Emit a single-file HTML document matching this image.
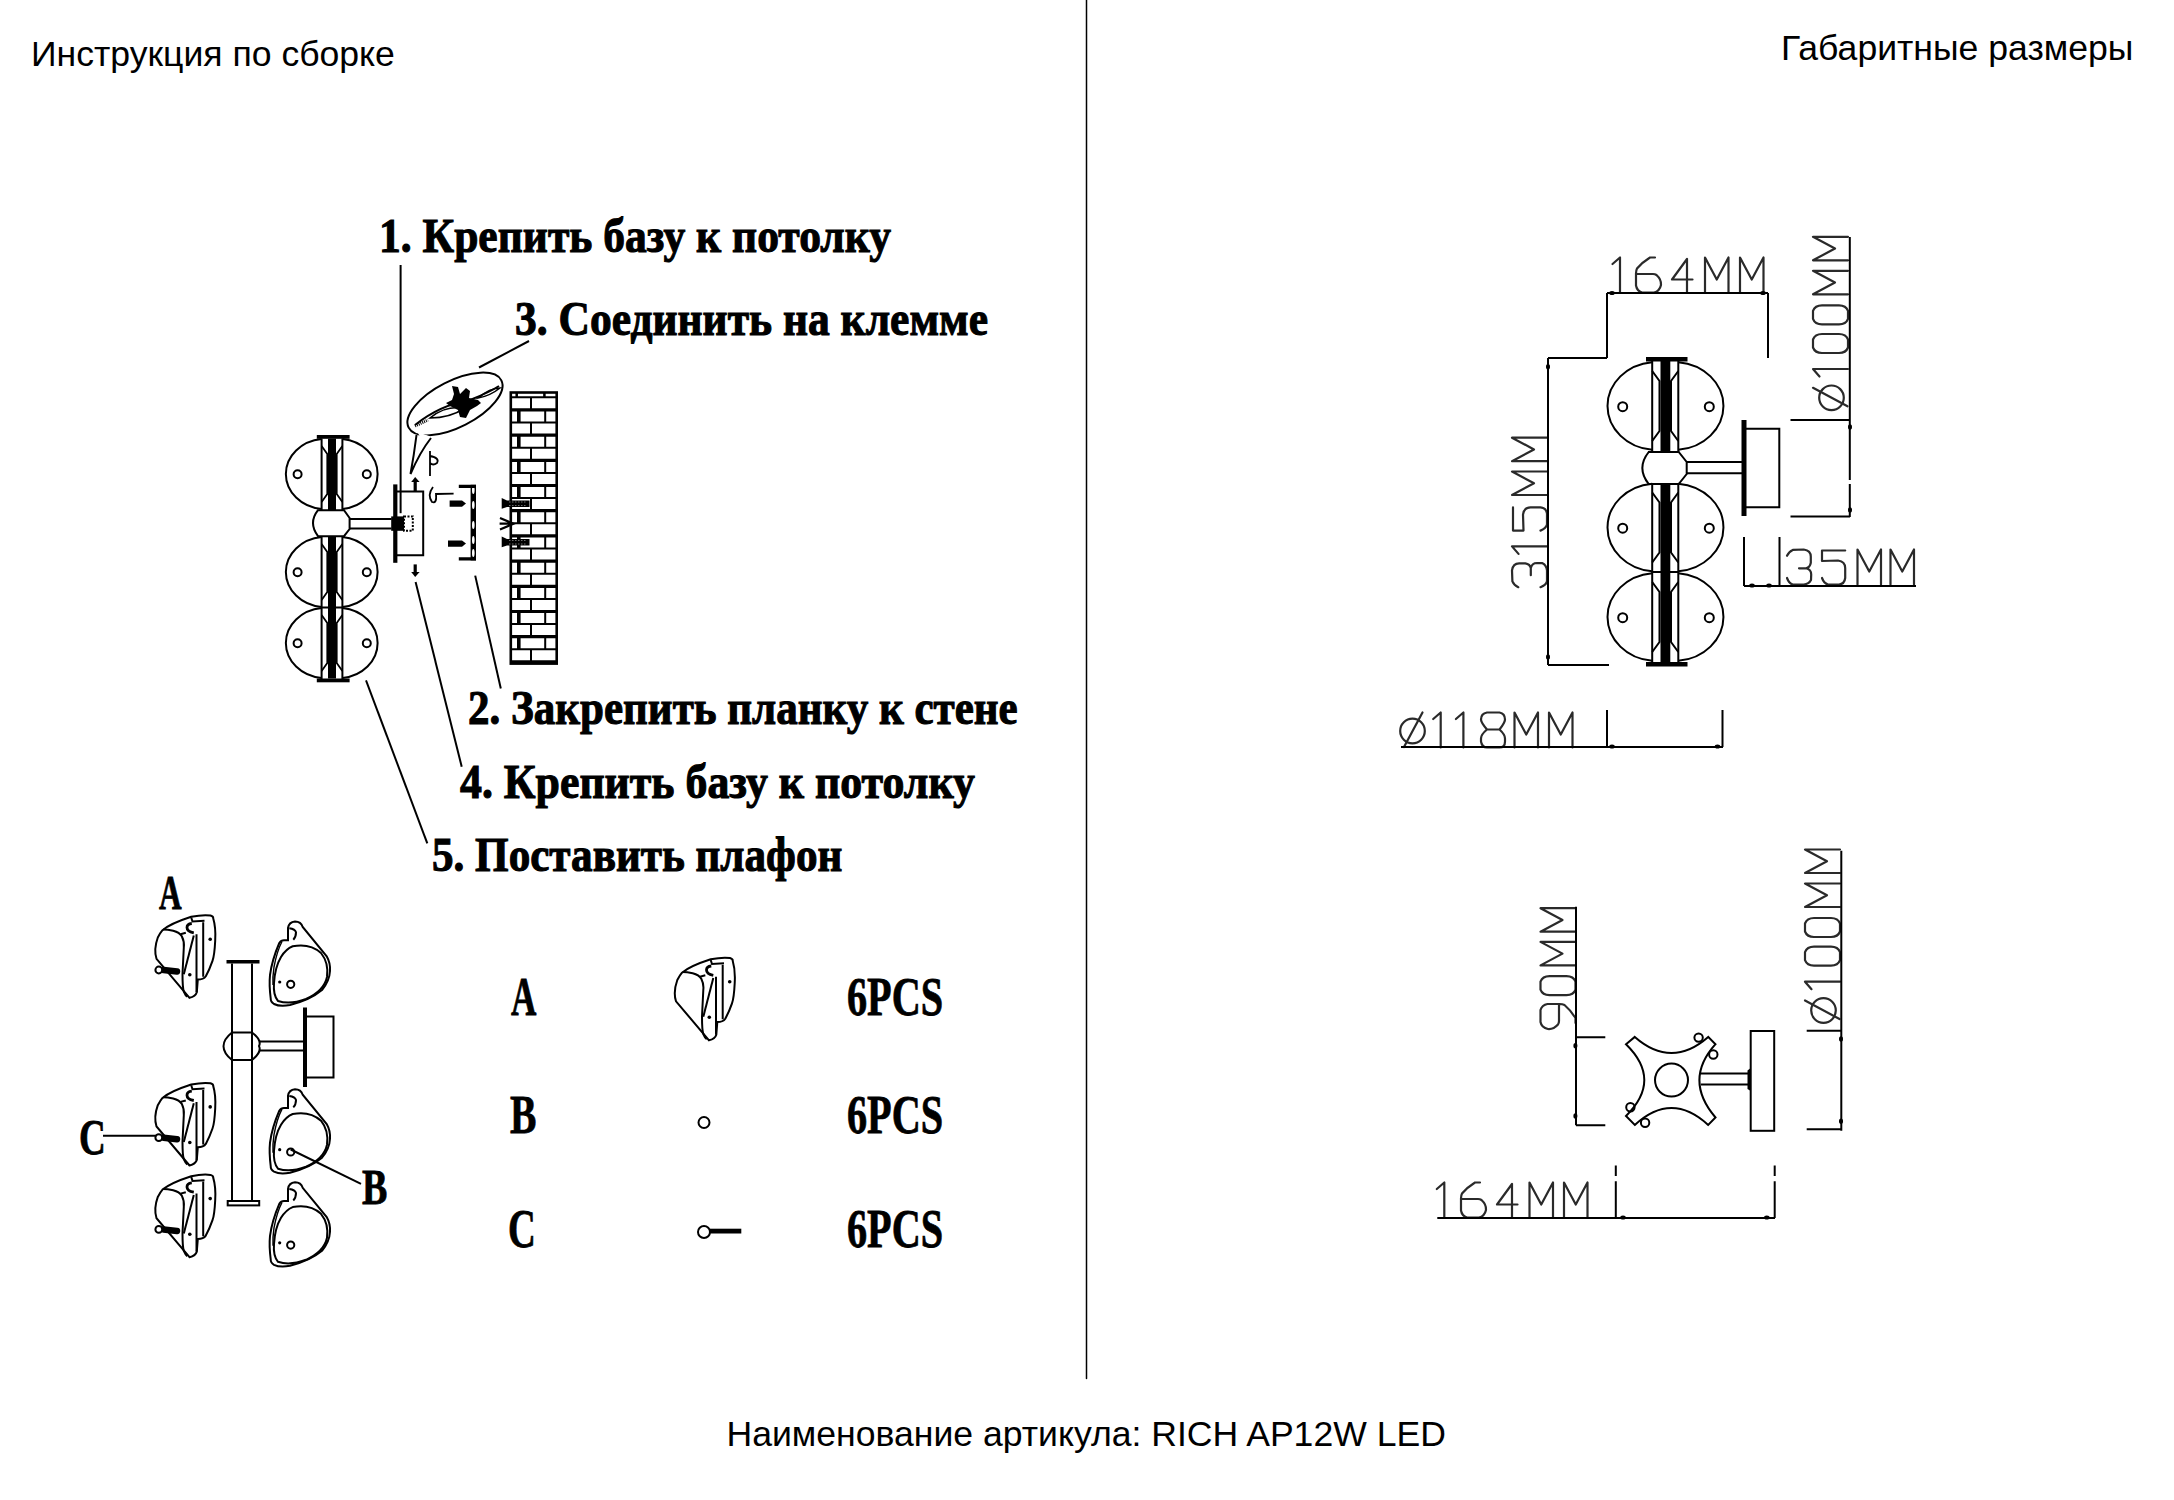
<!DOCTYPE html>
<html><head><meta charset="utf-8">
<style>
html,body{margin:0;padding:0;background:#fff;}
body{width:2174px;height:1500px;position:relative;overflow:hidden;}
.t{position:absolute;white-space:nowrap;line-height:1;color:#000;}
.sans{font-family:"Liberation Sans",sans-serif;font-size:35.6px;}
.ser{font-family:"Liberation Serif",serif;font-weight:bold;font-size:49px;transform-origin:0 0;-webkit-text-stroke:1.1px #000;}
.cnd{font-family:"Liberation Serif",serif;font-weight:bold;font-size:55px;transform-origin:0 0;transform:scaleX(0.72);-webkit-text-stroke:0.8px #000;}
svg{position:absolute;left:0;top:0;}
</style></head><body>

<div class="t sans" style="left:31px;top:37px;">Инструкция по сборке</div>
<div class="t sans" style="left:1781px;top:31px;">Габаритные размеры</div>
<div class="t sans" style="left:726.5px;top:1416.5px;">Наименование артикула: RICH AP12W LED</div>
<div class="t ser" style="left:379px;top:210.5px;transform:scaleX(0.889)">1. Крепить базу к потолку</div>
<div class="t ser" style="left:515px;top:293.5px;transform:scaleX(0.888)">3. Соединить на клемме</div>
<div class="t ser" style="left:467.5px;top:683px;transform:scaleX(0.878)">2. Закрепить планку к стене</div>
<div class="t ser" style="left:460px;top:757px;transform:scaleX(0.894)">4. Крепить базу к потолку</div>
<div class="t ser" style="left:431.5px;top:830px;transform:scaleX(0.88)">5. Поставить плафон</div>
<div class="t cnd" style="left:510.5px;top:969px;transform:scaleX(0.64)">A</div>
<div class="t cnd" style="left:847px;top:969px;transform:scaleX(0.731)">6PCS</div>
<div class="t cnd" style="left:510px;top:1087px;transform:scaleX(0.72)">B</div>
<div class="t cnd" style="left:847px;top:1087px;transform:scaleX(0.731)">6PCS</div>
<div class="t cnd" style="left:508px;top:1201px;transform:scaleX(0.7)">C</div>
<div class="t cnd" style="left:847px;top:1201px;transform:scaleX(0.731)">6PCS</div>
<div class="t cnd" style="font-size:49px;left:158.5px;top:868px;transform:scaleX(0.64)">A</div>
<div class="t cnd" style="font-size:50px;left:78.5px;top:1111.5px;transform:scaleX(0.74)">C</div>
<div class="t cnd" style="font-size:50px;left:361.5px;top:1162px;transform:scaleX(0.76)">B</div>
<svg width="2174" height="1500" viewBox="0 0 2174 1500">
<style>.cad{fill:none;stroke:#2a2a2a;stroke-width:2.2;stroke-linejoin:round;stroke-linecap:round}.ln{fill:none;stroke:#000;stroke-width:2}</style>
<line x1="1086.5" y1="0" x2="1086.5" y2="1378.5" stroke="#000" stroke-width="1.5" stroke-linecap="round"/>
<defs>
<g id="g1"><path d="M-1.5,6.5 L6,0 L6,35"/></g>
<g id="g6"><path d="M19,0 L14,0 Q6,5 1,11 Q0,13 0,16 L0,28 Q1,33.5 6,35 L18,35 Q23.5,34 25,27.5 Q25.5,22 20.5,17.5 Q19,16.5 17,16.5 L0,16.5"/></g>
<g id="g9"><path transform="rotate(180 12.5 17.5)" d="M19,0 L14,0 Q6,5 1,11 Q0,13 0,16 L0,28 Q1,33.5 6,35 L18,35 Q23.5,34 25,27.5 Q25.5,22 20.5,17.5 Q19,16.5 17,16.5 L0,16.5"/></g>
<g id="g4"><path d="M15,1.5 L0,22 L20.5,22 M15,1.5 L15,35"/></g>
<g id="gM"><path d="M0,35 L0,0 L11.75,22 L23.5,0 L23.5,35"/></g>
<g id="g3"><path d="M0,6.3 Q2,2 5.8,0.4 L16.8,0 Q23.8,1 23.8,7.1 L23.8,13.3 Q23,18 19.1,18.8 L12,18.8 M19.1,18.8 Q24.2,20 24.2,25 L24,30.5 Q22,34.5 16.8,35 L5.8,35 Q2,34 0,28.5"/></g>
<g id="g5"><path d="M23.2,1 L0,1 L0,11.5 L16,11 Q23.2,12 23.2,18.5 L23.2,28.5 Q22.5,34.5 17,35 L6,35 Q2,34 0,28.5"/></g>
<g id="g8"><path d="M6,0 L18.5,0 Q24,1 24,7 Q24,10 18.5,17 L6,17 Q0,10 0,7 Q0,1 6,0 Z M6,17 Q0,22 0,26 L0,29 Q1,35 6,35 L18.5,35 Q24,35 24,29 L24,26 Q24,22 18.5,17"/></g>
<g id="g0"><path d="M5.5,0 L13.5,0 Q19,2 19,9 L19,26 Q19,33 13.5,35 L5.5,35 Q0,33 0,26 L0,9 Q0,2 5.5,0 Z"/></g>
<g id="go"><circle cx="12.5" cy="18.5" r="12.3"/><path d="M22.5,0 L4,34.5"/></g>
</defs>
<g class="cad"><use href="#g1" x="1614" y="257.5"/><use href="#g6" x="1636" y="257.5"/><use href="#g4" x="1672" y="257.5"/><use href="#gM" x="1705" y="257.5"/><use href="#gM" x="1740" y="257.5"/></g>
<g class="cad"><use href="#g1" x="1438.3" y="1182.5"/><use href="#g6" x="1461" y="1182.5"/><use href="#g4" x="1497" y="1182.5"/><use href="#gM" x="1529.5" y="1182.5"/><use href="#gM" x="1564" y="1182.5"/></g>
<g class="cad"><use href="#g3" x="1787" y="549.5"/><use href="#g5" x="1822" y="549.5"/><use href="#gM" x="1857.5" y="549.5"/><use href="#gM" x="1890.5" y="549.5"/></g>
<g class="cad"><use href="#go" x="1400" y="712.5"/><use href="#g1" x="1434.7" y="712.5"/><use href="#g1" x="1457.4" y="712.5"/><use href="#g8" x="1481" y="712.5"/><use href="#gM" x="1514.5" y="712.5"/><use href="#gM" x="1549" y="712.5"/></g>
<g class="cad" transform="translate(1547,587.2) rotate(-90)"><use href="#g3" x="0" y="-35"/><use href="#g1" x="34.8" y="-35"/><use href="#g5" x="56.6" y="-35"/><use href="#gM" x="92.2" y="-35"/><use href="#gM" x="126" y="-35"/></g>
<g class="cad" transform="translate(1848,410.3) rotate(-90)"><use href="#go" x="0" y="-35"/><use href="#g1" x="35.3" y="-35"/><use href="#g0" x="57.3" y="-35"/><use href="#g0" x="86" y="-35"/><use href="#gM" x="116" y="-35"/><use href="#gM" x="150" y="-35"/></g>
<g class="cad" transform="translate(1840,1023) rotate(-90)"><use href="#go" x="0" y="-35"/><use href="#g1" x="35.3" y="-35"/><use href="#g0" x="57.3" y="-35"/><use href="#g0" x="86" y="-35"/><use href="#gM" x="116" y="-35"/><use href="#gM" x="150" y="-35"/></g>
<g class="cad" transform="translate(1575.5,1029) rotate(-90)"><use href="#g9" x="0" y="-35"/><use href="#g0" x="33.8" y="-35"/><use href="#gM" x="63.6" y="-35"/><use href="#gM" x="97.3" y="-35"/></g>
<g class="ln">
<path d="M1607,293 L1768,293 M1607,293 L1607,358 M1768,293 L1768,358"/>
<path d="M1548,358 L1607,358 M1548,358 L1548,665 M1548,665 L1609,665"/>
<path d="M1849.8,237 L1849.8,517 M1790.5,420 L1850,420 M1790.5,516.5 L1850,516.5"/>
<path d="M1744,537 L1744,586 M1779.5,537 L1779.5,586 M1744,586 L1916,586"/>
<path d="M1401,747 L1723,747 M1607,710 L1607,747 M1722.5,710 L1722.5,747"/>
</g>
<g class="ln">
<path d="M1652.2,362.2 A49.4 44 0 0 0 1652.2,449.8"/>
<path d="M1678.3,362.2 A49.9 44 0 0 1 1678.3,449.8"/>
<circle cx="1622.7" cy="406.7" r="4.5"/>
<circle cx="1709.3" cy="406.7" r="4.5"/>
<path d="M1652.2,371 L1659.5,381 L1659.5,431 L1652.2,441 M1678.3,371 L1671,381 L1671,431 L1678.3,441" stroke-width="2"/>
<path d="M1652.2,483.7 A49.4 44 0 0 0 1652.2,571.3"/>
<path d="M1678.3,483.7 A49.9 44 0 0 1 1678.3,571.3"/>
<circle cx="1622.7" cy="528.2" r="4.5"/>
<circle cx="1709.3" cy="528.2" r="4.5"/>
<path d="M1652.2,492.5 L1659.5,502.5 L1659.5,552.5 L1652.2,562.5 M1678.3,492.5 L1671,502.5 L1671,552.5 L1678.3,562.5" stroke-width="2"/>
<path d="M1652.2,573.2 A49.4 44 0 0 0 1652.2,660.8"/>
<path d="M1678.3,573.2 A49.9 44 0 0 1 1678.3,660.8"/>
<circle cx="1622.7" cy="617.7" r="4.5"/>
<circle cx="1709.3" cy="617.7" r="4.5"/>
<path d="M1652.2,582 L1659.5,592 L1659.5,642 L1652.2,652 M1678.3,582 L1671,592 L1671,642 L1678.3,652" stroke-width="2"/>
<path d="M1652.2,361 L1652.2,452 M1678.3,361 L1678.3,452 M1652.2,484 L1652.2,662 M1678.3,484 L1678.3,662 M1652.2,572 L1678.3,572"/>
<path d="M1648.7,452 L1678.7,452 L1686.7,462 L1686.7,474 L1678.7,484 L1648.7,484 Q1636,468 1648.7,452 Z"/>
<path d="M1686.7,462 L1742,462 M1686.7,473.3 L1742,473.3"/>
<path d="M1744,428.7 L1779.3,428.7 L1779.3,507.3 L1744,507.3"/>
</g>
<rect x="1646" y="357" width="41.5" height="4.5" fill="#000"/>
<rect x="1646" y="662" width="41.5" height="4.5" fill="#000"/>
<rect x="1660.5" y="361" width="9.8" height="91" fill="#000"/>
<rect x="1660.5" y="484" width="9.8" height="178" fill="#000"/>
<rect x="1741.5" y="420" width="5" height="96" fill="#000"/>
<g class="ln">
<path d="M1576,906.7 L1576,1125.3 M1576,1037.3 L1605.3,1037.3 M1576,1125.3 L1605.3,1125.3"/>
<path d="M1841.3,850.7 L1841.3,1130.7 M1806.7,1030.7 L1841.3,1030.7 M1806.7,1129.3 L1841.3,1129.3"/>
<path d="M1437.3,1218 L1775,1218 M1615.8,1165.6 L1615.8,1176 M1615.8,1181.3 L1615.8,1218 M1774.7,1165.6 L1774.7,1176 M1774.7,1181.3 L1774.7,1218"/>
<rect x="1750.7" y="1031" width="23.5" height="99.8"/>
<path d="M1700.8,1073.5 L1748,1073.5 M1700.8,1084.5 L1748,1084.5"/>
<path d="M1634.8,1036.9 Q1671.5,1069 1708.2,1036.9 L1715.5,1044.2 Q1683.3,1080 1715.5,1117.5 L1708.2,1124.9 Q1671.5,1091 1634.8,1124.9 L1626,1116 Q1662.6,1080 1626,1044.2 Z"/>
<circle cx="1671.5" cy="1080.1" r="16.5"/>
<circle cx="1698.6" cy="1037.6" r="4.2"/><circle cx="1713.3" cy="1054.5" r="4.2"/><circle cx="1630.4" cy="1107.3" r="4.2"/><circle cx="1645.1" cy="1122.7" r="4.2"/>
</g>
<path d="M1747.5,1070.6 L1750.7,1068 L1750.7,1091 L1747.5,1089 Z" fill="#000"/>
<ellipse cx="1548" cy="366.7" rx="2" ry="2.8" fill="#000"/>
<ellipse cx="1548" cy="657" rx="2" ry="2.8" fill="#000"/>
<ellipse cx="1850" cy="427" rx="2" ry="2.8" fill="#000"/>
<ellipse cx="1850" cy="510" rx="2" ry="2.8" fill="#000"/>
<ellipse cx="1575.4" cy="1045.7" rx="2" ry="2.8" fill="#000"/>
<ellipse cx="1575.4" cy="1116" rx="2" ry="2.8" fill="#000"/>
<ellipse cx="1841" cy="1039" rx="2" ry="2.8" fill="#000"/>
<ellipse cx="1841" cy="1121.2" rx="2" ry="2.8" fill="#000"/>
<ellipse cx="1752" cy="585.5" rx="2.8" ry="2" fill="#000"/>
<ellipse cx="1769" cy="585.5" rx="2.8" ry="2" fill="#000"/>
<ellipse cx="1612" cy="746.5" rx="2.8" ry="2" fill="#000"/>
<ellipse cx="1717.5" cy="746.5" rx="2.8" ry="2" fill="#000"/>
<ellipse cx="1612" cy="293" rx="2.8" ry="2" fill="#000"/>
<ellipse cx="1763" cy="293" rx="2.8" ry="2" fill="#000"/>
<ellipse cx="1623" cy="1217.5" rx="2.8" ry="2" fill="#000"/>
<ellipse cx="1766.8" cy="1217.5" rx="2.8" ry="2" fill="#000"/>
<rect x="1846" y="480" width="8" height="4" fill="#fff"/>
<g class="ln">
<path d="M400.6,265 L400.6,513.2"/>
<path d="M529,341 L479,367.5"/>
<path d="M475.2,575.6 L500.8,688.5"/>
<path d="M415.6,582 L461.7,766.7"/>
<path d="M366,680.4 L427.3,843.3"/>
<path d="M321.6,439 A40 35.2 0 0 0 321.6,509"/>
<path d="M342.4,439 A39.4 35.2 0 0 1 342.4,509"/>
<circle cx="297.6" cy="474.2" r="4"/>
<circle cx="366.8" cy="474.2" r="4"/>
<path d="M321.6,446 L327.3,454 L327.3,494 L321.6,502 M342.4,446 L336.7,454 L336.7,494 L342.4,502" stroke-width="1.8"/>
<path d="M321.6,537 A40 35.2 0 0 0 321.6,607"/>
<path d="M342.4,537 A39.4 35.2 0 0 1 342.4,607"/>
<circle cx="297.6" cy="572.2" r="4"/>
<circle cx="366.8" cy="572.2" r="4"/>
<path d="M321.6,544 L327.3,552 L327.3,592 L321.6,600 M342.4,544 L336.7,552 L336.7,592 L342.4,600" stroke-width="1.8"/>
<path d="M321.6,608 A40 35.2 0 0 0 321.6,678"/>
<path d="M342.4,608 A39.4 35.2 0 0 1 342.4,678"/>
<circle cx="297.6" cy="643.2" r="4"/>
<circle cx="366.8" cy="643.2" r="4"/>
<path d="M321.6,615 L327.3,623 L327.3,663 L321.6,671 M342.4,615 L336.7,623 L336.7,663 L342.4,671" stroke-width="1.8"/>
<path d="M321.6,438.6 L321.6,510 M342.4,438.6 L342.4,510 M321.6,536 L321.6,679 M342.4,536 L342.4,679 M321.6,607.5 L342.4,607.5"/>
<path d="M318,510.2 L344,510.2 L349.6,518 L349.6,529 L344,536.2 L318,536.2 Q308,523 318,510.2 Z"/>
<path d="M349.6,519 L391.6,519 M349.6,528.6 L391.6,528.6"/>
<path d="M397,491.6 L423.2,491.6 L423.2,555.2 L397,555.2"/>
</g>
<rect x="316.8" y="435" width="32.8" height="3.8" fill="#000"/>
<rect x="316.8" y="678.5" width="32.8" height="3.8" fill="#000"/>
<rect x="328" y="438.6" width="8" height="71.6" fill="#000"/>
<rect x="328" y="536" width="8" height="142.5" fill="#000"/>
<rect x="393.2" y="484.4" width="4.2" height="78.4" fill="#000"/>
<rect x="391.2" y="516.4" width="12.8" height="14.4" fill="#000"/>
<rect x="404" y="516.4" width="8.8" height="14.4" fill="none" stroke="#000" stroke-width="2" stroke-dasharray="2 1.5"/>
<path d="M415.2,491.6 L415.2,481" stroke="#000" stroke-width="3.2"/><path d="M411.2,482 L419.6,482 L415.2,477 Z" fill="#000"/>
<path d="M415.2,564.4 L415.2,573" stroke="#000" stroke-width="3.2"/><path d="M411.2,572 L419.6,572 L415.2,577 Z" fill="#000"/>
<path d="M433,487 Q427,495 432,502 Q437,504 436,494 L453.6,493.6" fill="none" stroke="#000" stroke-width="1.8"/>
<path d="M449.6,500.4 L462,500.4 L466,503.6 L462,506.8 L449.6,506.8 Z" fill="#000"/>
<path d="M448,540.4 L462,540.4 L466,543.6 L462,546.8 L448,546.8 Z" fill="#000"/>
<rect x="470.6" y="484.8" width="5.4" height="75.6" fill="#000"/>
<ellipse cx="473.3" cy="490" rx="1.3" ry="4" fill="#fff"/>
<ellipse cx="473.3" cy="505" rx="1.3" ry="4" fill="#fff"/>
<ellipse cx="473.3" cy="525" rx="1.3" ry="4" fill="#fff"/>
<ellipse cx="473.3" cy="540" rx="1.3" ry="4" fill="#fff"/>
<ellipse cx="473.3" cy="553" rx="1.3" ry="4" fill="#fff"/>
<path d="M458.8,486.4 L476,486.4 M458.8,558.8 L476,558.8" stroke="#000" stroke-width="3.2"/>
<ellipse cx="455" cy="404" rx="52" ry="23.2" transform="rotate(-27 455 404)" fill="none" stroke="#000" stroke-width="2"/>
<path d="M417.5,432 L430.5,436.5 L424,445 Z" fill="#fff"/>
<path d="M416.5,435 Q414,455 410.5,474 Q420,452 431,438" fill="none" stroke="#000" stroke-width="2"/>
<path d="M415,425 Q440,405 470,400 Q490,392 499,386" fill="none" stroke="#000" stroke-width="2"/>
<path d="M430,418 Q445,405 465,408 Q450,418 430,418 Z M478,398 Q490,388 500,388 Q490,396 478,398 Z" fill="none" stroke="#000" stroke-width="1.6"/>
<path d="M452,386 L458,387 L460,394 L466,388 L470,391 L469,398 L478,400 L481,403 L477,406 L470,410 L466,418 L460,417 L458,410 L450,406 L446,403 L452,400 L454,394 Z" fill="#000"/>
<path d="M415,426 L428,420" stroke="#000" stroke-width="3" stroke-dasharray="1 1"/>
<path d="M430,451 L430,476 M430,456 Q440,458 437,463 Q433,466 430,463" fill="none" stroke="#000" stroke-width="1.8"/>
<rect x="510.8" y="392.5" width="45.900000000000034" height="271.1" fill="none" stroke="#000" stroke-width="2.6"/>
<path d="M510.8,397.3 L556.7,397.3" stroke="#000" stroke-width="2"/>
<path d="M516.7,392.5 L516.7,397.3 M544.4,392.5 L544.4,397.3" stroke="#000" stroke-width="2.5"/>
<path d="M531,397.3 L531,409.90000000000003" stroke="#000" stroke-width="2"/>
<path d="M510.8,409.90000000000003 L556.7,409.90000000000003" stroke="#000" stroke-width="3.2"/>
<path d="M518.8,409.90000000000003 L518.8,422.50000000000006" stroke="#000" stroke-width="3.6"/><path d="M545.2,409.90000000000003 L545.2,422.50000000000006" stroke="#000" stroke-width="2"/>
<path d="M510.8,422.50000000000006 L556.7,422.50000000000006" stroke="#000" stroke-width="2"/>
<path d="M531,422.50000000000006 L531,435.1000000000001" stroke="#000" stroke-width="2"/>
<path d="M510.8,435.1000000000001 L556.7,435.1000000000001" stroke="#000" stroke-width="3.2"/>
<path d="M518.8,435.1000000000001 L518.8,447.7000000000001" stroke="#000" stroke-width="3.6"/><path d="M545.2,435.1000000000001 L545.2,447.7000000000001" stroke="#000" stroke-width="2"/>
<path d="M510.8,447.7000000000001 L556.7,447.7000000000001" stroke="#000" stroke-width="2"/>
<path d="M531,447.7000000000001 L531,460.3000000000001" stroke="#000" stroke-width="2"/>
<path d="M510.8,460.3000000000001 L556.7,460.3000000000001" stroke="#000" stroke-width="3.2"/>
<path d="M518.8,460.3000000000001 L518.8,472.90000000000015" stroke="#000" stroke-width="3.6"/><path d="M545.2,460.3000000000001 L545.2,472.90000000000015" stroke="#000" stroke-width="2"/>
<path d="M510.8,472.90000000000015 L556.7,472.90000000000015" stroke="#000" stroke-width="2"/>
<path d="M531,472.90000000000015 L531,485.50000000000017" stroke="#000" stroke-width="2"/>
<path d="M510.8,485.50000000000017 L556.7,485.50000000000017" stroke="#000" stroke-width="3.2"/>
<path d="M518.8,485.50000000000017 L518.8,498.1000000000002" stroke="#000" stroke-width="3.6"/><path d="M545.2,485.50000000000017 L545.2,498.1000000000002" stroke="#000" stroke-width="2"/>
<path d="M510.8,498.1000000000002 L556.7,498.1000000000002" stroke="#000" stroke-width="2"/>
<path d="M531,498.1000000000002 L531,510.7000000000002" stroke="#000" stroke-width="2"/>
<path d="M510.8,510.7000000000002 L556.7,510.7000000000002" stroke="#000" stroke-width="3.2"/>
<path d="M518.8,510.7000000000002 L518.8,523.3000000000002" stroke="#000" stroke-width="3.6"/><path d="M545.2,510.7000000000002 L545.2,523.3000000000002" stroke="#000" stroke-width="2"/>
<path d="M510.8,523.3000000000002 L556.7,523.3000000000002" stroke="#000" stroke-width="2"/>
<path d="M531,523.3000000000002 L531,535.9000000000002" stroke="#000" stroke-width="2"/>
<path d="M510.8,535.9000000000002 L556.7,535.9000000000002" stroke="#000" stroke-width="3.2"/>
<path d="M518.8,535.9000000000002 L518.8,548.5000000000002" stroke="#000" stroke-width="3.6"/><path d="M545.2,535.9000000000002 L545.2,548.5000000000002" stroke="#000" stroke-width="2"/>
<path d="M510.8,548.5000000000002 L556.7,548.5000000000002" stroke="#000" stroke-width="2"/>
<path d="M531,548.5000000000002 L531,561.1000000000003" stroke="#000" stroke-width="2"/>
<path d="M510.8,561.1000000000003 L556.7,561.1000000000003" stroke="#000" stroke-width="3.2"/>
<path d="M518.8,561.1000000000003 L518.8,573.7000000000003" stroke="#000" stroke-width="3.6"/><path d="M545.2,561.1000000000003 L545.2,573.7000000000003" stroke="#000" stroke-width="2"/>
<path d="M510.8,573.7000000000003 L556.7,573.7000000000003" stroke="#000" stroke-width="2"/>
<path d="M531,573.7000000000003 L531,586.3000000000003" stroke="#000" stroke-width="2"/>
<path d="M510.8,586.3000000000003 L556.7,586.3000000000003" stroke="#000" stroke-width="3.2"/>
<path d="M518.8,586.3000000000003 L518.8,598.9000000000003" stroke="#000" stroke-width="3.6"/><path d="M545.2,586.3000000000003 L545.2,598.9000000000003" stroke="#000" stroke-width="2"/>
<path d="M510.8,598.9000000000003 L556.7,598.9000000000003" stroke="#000" stroke-width="2"/>
<path d="M531,598.9000000000003 L531,611.5000000000003" stroke="#000" stroke-width="2"/>
<path d="M510.8,611.5000000000003 L556.7,611.5000000000003" stroke="#000" stroke-width="3.2"/>
<path d="M518.8,611.5000000000003 L518.8,624.1000000000004" stroke="#000" stroke-width="3.6"/><path d="M545.2,611.5000000000003 L545.2,624.1000000000004" stroke="#000" stroke-width="2"/>
<path d="M510.8,624.1000000000004 L556.7,624.1000000000004" stroke="#000" stroke-width="2"/>
<path d="M531,624.1000000000004 L531,636.7000000000004" stroke="#000" stroke-width="2"/>
<path d="M510.8,636.7000000000004 L556.7,636.7000000000004" stroke="#000" stroke-width="3.2"/>
<path d="M518.8,636.7000000000004 L518.8,649.3000000000004" stroke="#000" stroke-width="3.6"/><path d="M545.2,636.7000000000004 L545.2,649.3000000000004" stroke="#000" stroke-width="2"/>
<path d="M510.8,649.3000000000004 L556.7,649.3000000000004" stroke="#000" stroke-width="2"/>
<path d="M531,649.3000000000004 L531,661.9000000000004" stroke="#000" stroke-width="2"/>
<path d="M510.8,661.9000000000004 L556.7,661.9000000000004" stroke="#000" stroke-width="3.2"/>
<path d="M501.7,498 L507,500.5 L529.5,500.5 L529.5,507 L507,507 L501.7,508.7 Z" fill="#000"/>
<path d="M501.7,536.5 L507,539 L529.5,539 L529.5,545.5 L507,545.5 L501.7,547.2 Z" fill="#000"/>
<path d="M509,502 L527,502 M509,505.5 L527,505.5 M509,540.5 L527,540.5 M509,544 L527,544" stroke="#888" stroke-width="0.8" stroke-dasharray="1.5 1.5"/>
<path d="M500,518 L513.5,523.7 L500,529.5 M499.6,523.7 L513.5,523.7" fill="none" stroke="#000" stroke-width="2.2"/>
<g class="ln">
<path d="M232,963.5 L232,1201 M252,963.5 L252,1201"/>
<path d="M232,1032.5 L252,1032.5 M232,1060 L252,1060"/>
<path d="M232,1032.5 Q215,1046 232,1060 M252,1032.5 Q262,1040 259,1046 Q262,1052 252,1060"/>
<path d="M259,1041.5 L304,1041.5 M259,1050.5 L304,1050.5"/>
<path d="M307,1016.5 L333.5,1016.5 L333.5,1077.5 L307,1077.5"/>
<rect x="227.7" y="1201" width="31.5" height="4.4"/>
<path d="M103,1135.7 L157.4,1135.7"/>
<path d="M290.7,1149.5 L361,1183.9"/>
</g>
<rect x="226.5" y="960" width="33" height="3.5" fill="#000"/>
<rect x="303" y="1007.5" width="4" height="79.5" fill="#000"/>
<defs><g id="shA"><g class="ln" stroke-width="2"><path d="M49,90.3 L16,51.3 Q13,42 17.3,30 Q20,25 22,22.7 Q30,16 50.7,9.3 Q62,7 70,8 Q73,9 72.7,10.7 Q75.5,20 74.7,33.3 Q74,48 72,53.3 Q69,62 65.3,68.7 Q63,72 57.3,72 L56.3,84.7 Q55,89 49,90.3 Z"/><path d="M22.7,22 Q27,22 32.7,23.3 Q39,25 41.3,28.7 Q44,34 43.3,40 L42,66.7 Q42,80 43.3,84 Q45,88 46.7,89.3"/><path d="M53.3,28 L43.3,66.7"/><path d="M56,26.7 L56,84.7 M62.7,14.7 L62.7,69.3"/><path d="M50.7,10 L52,14 L64,13.3"/><path d="M53.3,25.3 Q46.5,24 46.5,20 Q46.5,16.5 51.3,16" stroke-width="2.8"/><path d="M40,26.7 L45.3,25.3"/></g><circle cx="69.7" cy="31.7" r="1.8" fill="#000"/><circle cx="49.3" cy="67.3" r="1.8" fill="#000"/></g><g id="shB"><g class="ln" stroke-width="2"><path d="M10.7,83.3 Q9,70 10,60 Q12,45 19.3,28 Q21,25.3 24,25.3 L28,25.3 L28,13 Q29,7 35,6.5 Q41,6.5 42.7,12 L66.7,41.3 Q70.5,48 70,56 Q69.5,66 62,75 Q50,85 30,90 Q20,92 14,89 Q10.5,87 10.7,83.3 Z"/><path d="M32.7,31.3 Q50,28 61,38 Q69,48 67,62 Q64,76 46,84 Q30,90 18,86 Q13,80 14,68 Q15,52 21,42 Q26,34 32.7,31.3 Z"/><path d="M22,26.5 Q17,36 14,52 Q12.5,62 13,70" stroke-width="1.4"/><path d="M29.3,13.3 Q35,14 36,17.3 Q36,22 33.3,24.7"/><circle cx="30.7" cy="69.3" r="3.6"/></g><circle cx="19.7" cy="67" r="1.6" fill="#000"/></g></defs>
<use href="#shA" x="660" y="950"/>
<use href="#shA" x="140.5" y="907.5"/>
<path d="M163.5,970 L177,971.5" stroke="#000" stroke-width="6.5" stroke-linecap="round"/>
<circle cx="158.8" cy="970" r="3.4" fill="#fff" stroke="#000" stroke-width="2"/>
<use href="#shA" x="140.5" y="1075.2"/>
<path d="M163.5,1137.7 L177,1139.2" stroke="#000" stroke-width="6.5" stroke-linecap="round"/>
<circle cx="158.8" cy="1137.7" r="3.4" fill="#fff" stroke="#000" stroke-width="2"/>
<use href="#shA" x="140.5" y="1166.9"/>
<path d="M163.5,1229.4 L177,1230.9" stroke="#000" stroke-width="6.5" stroke-linecap="round"/>
<circle cx="158.8" cy="1229.4" r="3.4" fill="#fff" stroke="#000" stroke-width="2"/>
<use href="#shB" x="260" y="915"/>
<use href="#shB" x="260" y="1082.7"/>
<use href="#shB" x="260" y="1175.8"/>
<circle cx="704" cy="1122.5" r="5.5" fill="none" stroke="#000" stroke-width="2"/>
<circle cx="704" cy="1232" r="6" fill="none" stroke="#000" stroke-width="2"/>
<rect x="709.8" y="1228.7" width="31.5" height="4.8" fill="#000"/>
</svg>
</body></html>
